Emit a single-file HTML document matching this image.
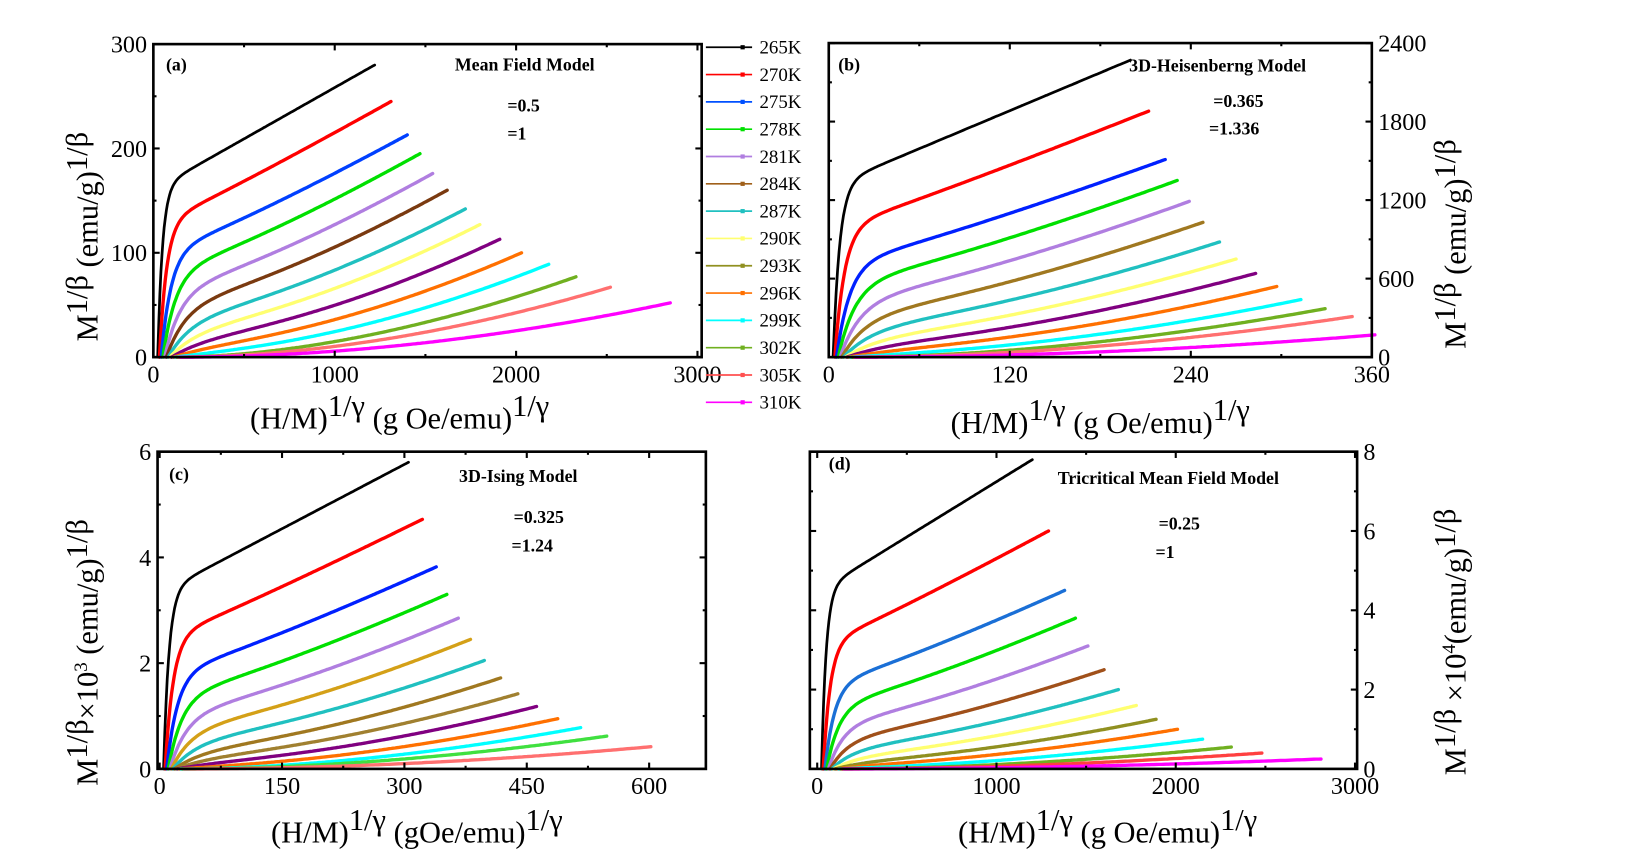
<!DOCTYPE html>
<html><head><meta charset="utf-8"><style>
html,body{margin:0;padding:0;background:#fff;}
svg{display:block;font-family:"Liberation Serif",serif;}
.b{font-weight:bold;font-size:17px;}
.t{font-size:23px;}
.lab{font-size:29px;}
.lg{font-size:18px;}
</style></head><body>
<svg id="s" width="1647" height="864" viewBox="0 0 1647 864" xmlns="http://www.w3.org/2000/svg">
<g transform="scale(1.0504)">
<g id="curves"></g>
<g id="axes" fill="none" stroke="#000"></g>
<g id="ticklabels" class="t" fill="#000"></g>
<text x="158" y="67" class="b">(a)</text>
<text x="433" y="67" class="b">Mean Field Model</text>
<text x="483" y="106" class="b">=0.5</text>
<text x="483" y="133" class="b">=1</text>
<text x="798" y="67" class="b">(b)</text>
<text x="1075" y="68" class="b">3D-Heisenberng Model</text>
<text x="1155" y="102" class="b">=0.365</text>
<text x="1151" y="128" class="b">=1.336</text>
<text x="161" y="457" class="b">(c)</text>
<text x="437" y="459" class="b">3D-Ising Model</text>
<text x="489" y="498" class="b">=0.325</text>
<text x="487" y="525" class="b">=1.24</text>
<text x="789" y="447" class="b">(d)</text>
<text x="1007" y="461" class="b">Tricritical Mean Field Model</text>
<text x="1103" y="504" class="b">=0.25</text>
<text x="1100" y="531" class="b">=1</text>
<text x="238" y="408" class="lab">(H/M)<tspan dy="-12">1/γ</tspan><tspan dy="12"> (g Oe/emu)</tspan><tspan dy="-12">1/γ</tspan></text>
<text x="905" y="412" class="lab">(H/M)<tspan dy="-12">1/γ</tspan><tspan dy="12"> (g Oe/emu)</tspan><tspan dy="-12">1/γ</tspan></text>
<text x="258" y="802" class="lab">(H/M)<tspan dy="-12">1/γ</tspan><tspan dy="12"> (gOe/emu)</tspan><tspan dy="-12">1/γ</tspan></text>
<text x="912" y="802" class="lab">(H/M)<tspan dy="-12">1/γ</tspan><tspan dy="12"> (g Oe/emu)</tspan><tspan dy="-12">1/γ</tspan></text>
<text transform="translate(93,325) rotate(-90)" class="lab">M<tspan dy="-10">1/β</tspan><tspan dy="10"> (emu/g)</tspan><tspan dy="-10">1/β</tspan></text>
<text transform="translate(1395,332) rotate(-90)" class="lab">M<tspan dy="-10">1/β</tspan><tspan dy="10"> (emu/g)</tspan><tspan dy="-10">1/β</tspan></text>
<text transform="translate(93,748) rotate(-90)" class="lab">M<tspan dy="-10">1/β</tspan><tspan dy="10">×10</tspan><tspan dy="-10" font-size="18">3</tspan><tspan dy="10"> (emu/g)</tspan><tspan dy="-10">1/β</tspan></text>
<text transform="translate(1395,738) rotate(-90)" class="lab">M<tspan dy="-10">1/β</tspan><tspan dy="10"> ×10</tspan><tspan dy="-10" font-size="18">4</tspan><tspan dy="10">(emu/g)</tspan><tspan dy="-10">1/β</tspan></text>
<g id="legend"></g>
</g>
</svg>
<script>
var NS="http://www.w3.org/2000/svg";
function el(p,tag,a,txt){var e=document.createElementNS(NS,tag);for(var k in a)e.setAttribute(k,a[k]);if(txt!==undefined)e.textContent=txt;p.appendChild(e);return e;}
var C=document.getElementById('curves'),A=document.getElementById('axes'),TL=document.getElementById('ticklabels'),LG=document.getElementById('legend');
var panels=[
{L:146,R:668,T:42,B:340,x0:146,xs:(664-146)/3000,ys:298/300,xmaj:1000,xmin:500,xmax:3000,ymaj:100,ymin:50,ymax:300,ylabRight:false,
 colors:['#000','#ff0000','#0040ff','#00e000','#b07ee0','#7a3a10','#20c0c0','#ffff70','#800080','#ff7000','#00ffff','#70b020','#ff7070','#ff00ff'],
 ends:[[1220,280],[1310,245],[1400,213],[1470,195],[1540,176],[1620,160],[1720,142],[1800,127],[1910,113],[2030,100],[2180,89],[2330,77],[2520,67],[2850,52]]},
{L:789,R:1306,T:41,B:340,x0:789,xs:517/360,ys:299/2400,xmaj:120,xmin:60,xmax:360,ymaj:600,ymin:300,ymax:2400,ylabRight:true,
 colors:['#000','#ff0000','#0020ff','#00e000','#b07ee0','#a07820','#20c0c0','#ffff70','#800080','#ff7000','#00ffff','#70b020','#ff7070','#ff00ff'],
 ends:[[200,2270],[212,1880],[223,1510],[231,1350],[239,1190],[248,1030],[259,880],[270,750],[283,640],[297,540],[313,440],[329,370],[347,310],[362,170]]},
{L:150,R:672,T:430,B:732,x0:152,xs:466/600,ys:302/6,xmaj:150,xmin:75,xmax:600,ymaj:2,ymin:1,ymax:6,ylabRight:false,
 colors:['#000','#ff0000','#0020ff','#00e000','#b07ee0','#d4a017','#20c0c0','#a07820','#a08030','#800080','#ff7000','#00ffff','#40e040','#ff7070'],
 ends:[[305,5.8],[322,4.72],[339,3.82],[352,3.3],[366,2.85],[381,2.45],[398,2.05],[418,1.72],[439,1.42],[462,1.18],[488,0.95],[516,0.78],[548,0.62],[602,0.42]]},
{L:771,R:1292,T:430,B:732,x0:778,xs:512/3000,ys:302/8,xmaj:1000,xmin:500,xmax:3000,ymaj:2,ymin:1,ymax:8,ylabRight:true,
 colors:['#000','#ff0000','#1a6fd6','#00e000','#b07ee0','#a0501a','#20c0c0','#ffff70','#909020','#ff7000','#00ffff','#70b020','#ff4040','#ff00ff'],
 ends:[[1200,7.8],[1290,6.0],[1380,4.5],[1440,3.8],[1510,3.1],[1600,2.5],[1680,2.0],[1780,1.6],[1890,1.25],[2010,1.0],[2150,0.75],[2310,0.55],[2480,0.4],[2810,0.25]]}
];
panels.forEach(function(P,pi){
  var X=function(v){return P.x0+v*P.xs;},Y=function(v){return P.B-v*P.ys;};
  P.ends.forEach(function(e,i){
    var w=Math.max(0,0.58*(1-i/11)),k=0.022+0.009*i,p=1+0.07*i;
    var xs=P.xmax*0.008*(1+0.4*i);
    var d='';
    for(var j=0;j<=200;j++){
      var t=j/200;
      var f=w*(1-Math.exp(-t/k))/(1-Math.exp(-1/k))+(1-w)*Math.pow(t,p);
      var xv=xs+t*(e[0]-xs),yv=e[1]*f;
      d+=(j?'L':'M')+X(xv).toFixed(1)+' '+Y(yv).toFixed(1);
    }
    el(C,'path',{d:d,fill:'none',stroke:P.colors[i],'stroke-width':i==0?2.6:3.2,'stroke-linecap':'round'});
  });
  el(A,'rect',{x:P.L,y:P.T,width:P.R-P.L,height:P.B-P.T,'stroke-width':2.5});
  for(var v=0;v<=P.xmax+1e-9;v+=P.xmin){
    var x=X(v),maj=Math.abs(v/P.xmaj-Math.round(v/P.xmaj))<1e-6,l=maj?6:3;
    el(A,'line',{x1:x,y1:P.B,x2:x,y2:P.B-l,'stroke-width':2});
    el(A,'line',{x1:x,y1:P.T,x2:x,y2:P.T+l,'stroke-width':2});
    if(maj) el(TL,'text',{x:x,y:P.B+24,'text-anchor':'middle'},String(v));
  }
  for(var v=0;v<=P.ymax+1e-9;v+=P.ymin){
    var y=Y(v),maj=Math.abs(v/P.ymaj-Math.round(v/P.ymaj))<1e-6,l=maj?6:3;
    el(A,'line',{x1:P.L,y1:y,x2:P.L+l,y2:y,'stroke-width':2});
    el(A,'line',{x1:P.R,y1:y,x2:P.R-l,y2:y,'stroke-width':2});
    if(maj){
      if(P.ylabRight) el(TL,'text',{x:P.R+6,y:y+8},String(v));
      else el(TL,'text',{x:P.L-6,y:y+8,'text-anchor':'end'},String(v));
    }
  }
});
var lc=['#000','#ff0000','#0050ff','#00e000','#b07ee0','#a0601a','#20c0c0','#ffff70','#909020','#ff7000','#00ffff','#70b020','#ff5050','#ff00ff'];
var ln=['265K','270K','275K','278K','281K','284K','287K','290K','293K','296K','299K','302K','305K','310K'];
for(var i=0;i<14;i++){
  var y=45+i*26;
  el(LG,'line',{x1:672,y1:y,x2:716,y2:y,stroke:lc[i],'stroke-width':1.6});
  el(LG,'rect',{x:705,y:y-2,width:4,height:4,fill:lc[i]});
  el(LG,'text',{x:723,y:y+6,'class':'lg'},ln[i]);
}
</script>
</body></html>
